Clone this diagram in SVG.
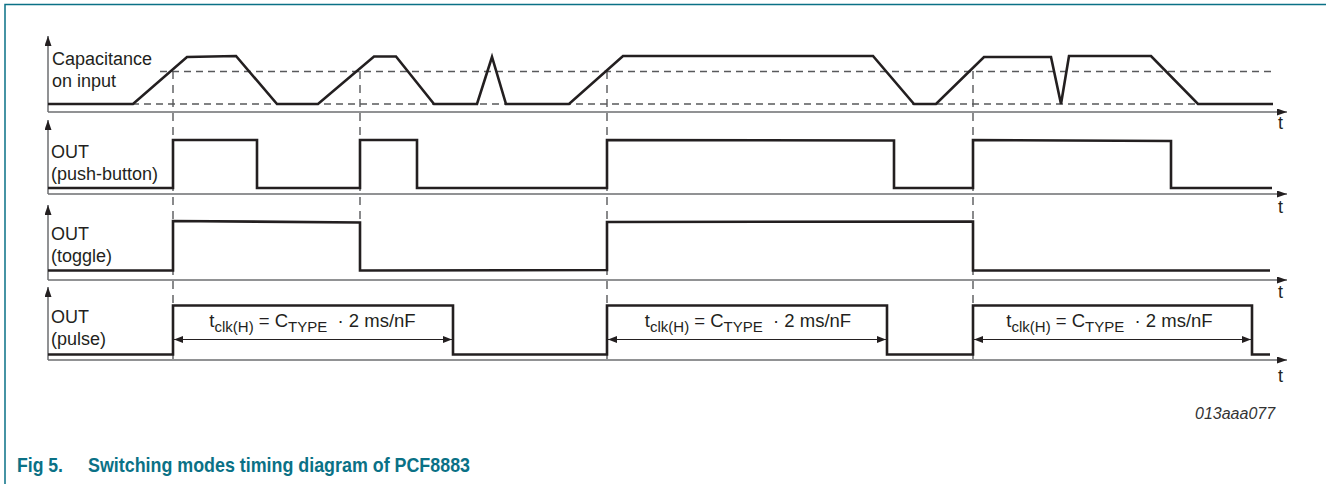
<svg xmlns="http://www.w3.org/2000/svg" width="1326" height="484" viewBox="0 0 1326 484">
<style>
.frame{fill:none;stroke:#0a7186;stroke-width:1.5}
.axis{fill:none;stroke:#6d6e71;stroke-width:1.5}
.wave{fill:none;stroke:#231f20;stroke-width:2.6;stroke-linejoin:miter}
.hd{fill:none;stroke:#58595b;stroke-width:1.4;stroke-dasharray:7 5}
.vd{fill:none;stroke:#58595b;stroke-width:1.4;stroke-dasharray:8 6}
.dim{fill:none;stroke:#231f20;stroke-width:1}
.lbl{font-family:"Liberation Sans",Arial,sans-serif;font-size:18px;fill:#231f20}
.eq{font-family:"Liberation Sans",Arial,sans-serif;font-size:18.5px;fill:#231f20}
.sub{font-size:15px}
.code{font-family:"Liberation Sans",Arial,sans-serif;font-size:16px;font-style:italic;fill:#333}
.cap{font-family:"Liberation Sans",Arial,sans-serif;font-size:21px;font-weight:bold;fill:#0a7186}
</style>
<defs>
<marker id="ax" markerUnits="userSpaceOnUse" markerWidth="10" markerHeight="7" refX="10" refY="3.5" orient="auto"><path d="M0,0 L10,3.5 L0,7 z" fill="#231f20"/></marker>
<marker id="da" markerUnits="userSpaceOnUse" markerWidth="9" markerHeight="7" refX="9" refY="3.5" orient="auto-start-reverse"><path d="M0,0 L9,3.5 L0,7 z" fill="#231f20"/></marker>
</defs>
<path class="frame" d="M5,484 L5,4.5 L1326,4.5"/>

<g id="axes">
<path class="axis" d="M48,112 L1287,112" marker-end="url(#ax)"/>
<path class="axis" d="M48,112 L48,36" marker-end="url(#ax)"/>
<path class="axis" d="M48,194 L1287,194" marker-end="url(#ax)"/>
<path class="axis" d="M48,194 L48,120" marker-end="url(#ax)"/>
<path class="axis" d="M48,280 L1287,280" marker-end="url(#ax)"/>
<path class="axis" d="M48,280 L48,205" marker-end="url(#ax)"/>
<path class="axis" d="M48,360 L1287,360" marker-end="url(#ax)"/>
<path class="axis" d="M48,360 L48,287" marker-end="url(#ax)"/>
<text class="lbl" x="1278" y="129">t</text>
<text class="lbl" x="1278" y="213">t</text>
<text class="lbl" x="1278" y="298">t</text>
<text class="lbl" x="1278" y="382">t</text>
</g>

<g id="guides">
<path class="hd" d="M160,71.5 L1273,71.5"/>
<path class="hd" d="M48,104 L1273,104"/>
<path class="vd" d="M173,71 L173,360 M360,71 L360,271 M607,71 L607,360 M973,71 L973,360"/>
</g>

<g id="capacitance">
<path class="wave" d="M48,104 L133,104 L187,57 L236,56 L277,104 L318,104 L374,56.5 L396,56.5 L434,104 L477,104 L492,57 L506,104 L569,104 L623,56 L873,56 L914,104 L936,104 L984,57 L1051,57 L1061,104 L1069,56 L1151,56 L1198,104 L1273,104"/>
<text class="lbl" x="52" y="65">Capacitance</text>
<text class="lbl" x="52" y="87">on input</text>
</g>

<g id="push-button">
<path class="wave" d="M48,188 L173,188 L173,140 L257,140 L257,188 L360,188 L360,140 L417,140 L417,188 L607,188 L607,140 L894,140.5 L894,188 L973,188 L973,140 L1171,141 L1171,188 L1272,188"/>
<text class="lbl" x="51" y="158">OUT</text>
<text class="lbl" x="51" y="180">(push-button)</text>
</g>

<g id="toggle">
<path class="wave" d="M48,270.5 L173,270.5 L173,221 L360,222.5 L360,270.5 L607,270 L607,222 L973,221.5 L973,270.5 L1270,270.5"/>
<text class="lbl" x="51" y="240">OUT</text>
<text class="lbl" x="51" y="262">(toggle)</text>
</g>

<g id="pulse">
<path class="wave" d="M48,354.5 L173,354.5 L173,305.5 L453,305.5 L453,354.5 L607,354.5 L607,305.5 L887,305.5 L887,354.5 L973,354.5 L973,305.5 L1252,305.5 L1252,354.5 L1270,354.5"/>
<text class="lbl" x="51" y="323">OUT</text>
<text class="lbl" x="51" y="345">(pulse)</text>
</g>

<g id="connectors">
<path class="dim" d="M174,339.5 L452,339.5" marker-start="url(#da)" marker-end="url(#da)"/>
<path class="dim" d="M608,339.5 L886,339.5" marker-start="url(#da)" marker-end="url(#da)"/>
<path class="dim" d="M974,339.5 L1251,339.5" marker-start="url(#da)" marker-end="url(#da)"/>
</g>

<g id="labels">
<text class="eq" x="312.5" y="327" text-anchor="middle">t<tspan class="sub" dy="5">clk(H)</tspan><tspan dy="-5"> = C</tspan><tspan class="sub" dy="5">TYPE</tspan><tspan dy="-5">&#160; · 2 ms/nF</tspan></text>
<text class="eq" x="748" y="327" text-anchor="middle">t<tspan class="sub" dy="5">clk(H)</tspan><tspan dy="-5"> = C</tspan><tspan class="sub" dy="5">TYPE</tspan><tspan dy="-5">&#160; · 2 ms/nF</tspan></text>
<text class="eq" x="1109.5" y="327" text-anchor="middle">t<tspan class="sub" dy="5">clk(H)</tspan><tspan dy="-5"> = C</tspan><tspan class="sub" dy="5">TYPE</tspan><tspan dy="-5">&#160; · 2 ms/nF</tspan></text>
<text class="code" x="1195" y="419">013aaa077</text>
<text class="cap" x="17" y="472" textLength="46" lengthAdjust="spacingAndGlyphs">Fig 5.</text>
<text class="cap" x="88" y="472" textLength="382" lengthAdjust="spacingAndGlyphs">Switching modes timing diagram of PCF8883</text>
</g>
</svg>
